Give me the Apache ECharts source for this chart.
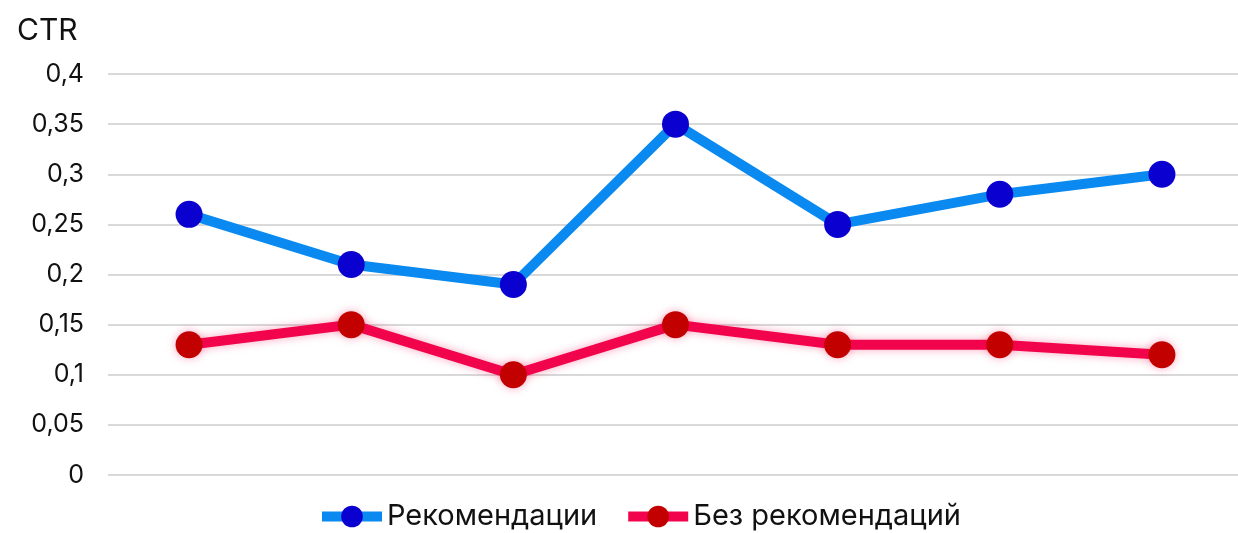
<!DOCTYPE html>
<html>
<head>
    <meta charset="utf-8">
    <title>CTR</title>
    <script src="https://cdn.jsdelivr.net/npm/echarts@6/dist/echarts.min.js"></script>
    <style>
        html, body { margin: 0; padding: 0; background: #fff; }
        #main { width: 1238px; height: 533px; }
    </style>
</head>
<body>
    <div id="main"></div>
    <script type="text/javascript">
    var categories = ['1', '2', '3', '4', '5', '6', '7'];
    var withRecs = [0.26, 0.21, 0.19, 0.35, 0.25, 0.28, 0.30];
    var withoutRecs = [0.13, 0.15, 0.10, 0.15, 0.13, 0.13, 0.12];
    var seriesNames = ['Рекомендации', 'Без рекомендаций'];

    var font = 'Inter, "Noto Sans", sans-serif';
    var myChart = echarts.init(document.getElementById('main'));

    var option = {
        animation: false,
        title: {
            text: 'CTR',
            left: 12,
            top: 11,
            textStyle: { fontFamily: font, fontSize: 30, fontWeight: 'normal', color: '#111' }
        },
        legend: {
            data: seriesNames,
            bottom: -3,
            left: 312,
            itemWidth: 60,
            itemHeight: 27,
            itemGap: 26,
            lineStyle: { width: 10 },
            textStyle: { fontFamily: font, fontSize: 29, color: '#111' }
        },
        grid: {
            left: 108,
            width: 1135,
            top: 74,
            bottom: 58,
            outerBoundsMode: 'none'
        },
        xAxis: {
            type: 'category',
            data: categories,
            boundaryGap: true,
            axisLine: { show: false },
            axisTick: { show: false },
            axisLabel: { show: false }
        },
        yAxis: {
            type: 'value',
            min: 0,
            max: 0.4,
            interval: 0.05,
            axisLine: { show: false },
            axisTick: { show: false },
            splitLine: { lineStyle: { color: '#d9d9d9', width: 2 } },
            axisLabel: {
                margin: 24,
                fontFamily: font,
                fontSize: 25,
                color: '#111',
                formatter: function (v) {
                    return String(Math.round(v * 100) / 100).replace('.', ',');
                }
            }
        },
        series: [
            {
                name: seriesNames[0],
                type: 'line',
                data: withRecs,
                symbol: 'circle',
                symbolSize: 27,
                lineStyle: { color: '#0a8af0', width: 10 },
                itemStyle: { color: '#0a00d0' }
            },
            {
                name: seriesNames[1],
                type: 'line',
                data: withoutRecs,
                symbol: 'circle',
                symbolSize: 27,
                lineStyle: {
                    color: '#f2044c',
                    width: 10,
                    shadowBlur: 10,
                    shadowColor: 'rgba(242, 4, 76, 0.35)'
                },
                itemStyle: {
                    color: '#c30000',
                    shadowBlur: 10,
                    shadowColor: 'rgba(242, 4, 76, 0.35)'
                }
            }
        ]
    };

    myChart.setOption(option);
    </script>
</body>
</html>
